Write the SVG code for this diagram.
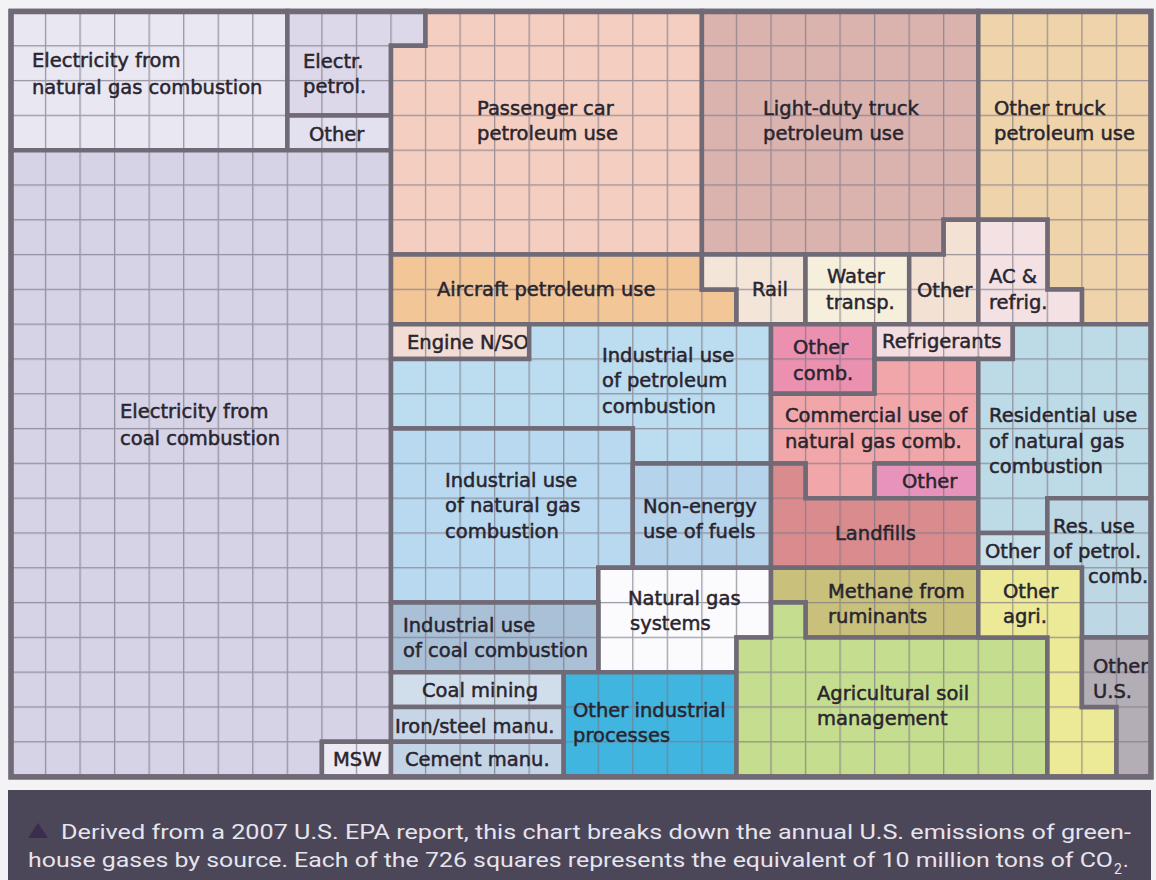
<svg xmlns="http://www.w3.org/2000/svg" width="1156" height="880" viewBox="0 0 1156 880">
<defs>
<pattern id="grid" patternUnits="userSpaceOnUse" x="10.35" y="10.35" width="34.545" height="34.8">
<rect x="0" y="0" width="1.3" height="34.8" fill="#7d7885" fill-opacity="0.72"/>
<rect x="1.3" y="0" width="33.245" height="1.3" fill="#7d7885" fill-opacity="0.72"/>
</pattern>
<style>
.g{fill:url(#grid);stroke:#6f6a75;stroke-width:4.5;stroke-linejoin:miter}
.t{font-family:"DejaVu Sans","Verdana",sans-serif;font-size:19.5px;fill:#29252f;stroke:#29252f;stroke-width:0.5}
.cap{font-family:Roboto,"Liberation Sans",sans-serif;font-size:21px;fill:#e6e4ec}
</style>
</defs>
<rect x="0" y="0" width="1156" height="880" fill="#f3f2f5"/>

<g id="elec-ng"><polygon fill="#e9e7f1" points="11,11 287.4,11 287.4,150.2 11,150.2"/><polygon class="g" points="11,11 287.4,11 287.4,150.2 11,150.2"/><text class="t" x="32" y="67">Electricity from</text><text class="t" x="32" y="94">natural gas combustion</text></g>
<g id="elec-petrol"><polygon fill="#dcd8ea" points="287.4,11 425.5,11 425.5,45.8 391,45.8 391,115.4 287.4,115.4"/><polygon class="g" points="287.4,11 425.5,11 425.5,45.8 391,45.8 391,115.4 287.4,115.4"/><text class="t" x="303" y="68">Electr.</text><text class="t" x="303" y="93">petrol.</text></g>
<g id="elec-other"><polygon fill="#e3e0ef" points="287.4,115.4 391,115.4 391,150.2 287.4,150.2"/><polygon class="g" points="287.4,115.4 391,115.4 391,150.2 287.4,150.2"/><text class="t" x="309" y="141">Other</text></g>
<g id="elec-coal"><polygon fill="#d6d3e6" points="11,150.2 391,150.2 391,741.8 321.9,741.8 321.9,776.6 11,776.6"/><polygon class="g" points="11,150.2 391,150.2 391,741.8 321.9,741.8 321.9,776.6 11,776.6"/><text class="t" x="120" y="418">Electricity from</text><text class="t" x="120" y="445">coal combustion</text></g>
<g id="msw"><polygon fill="#ecebf3" points="321.9,741.8 391,741.8 391,776.6 321.9,776.6"/><polygon class="g" points="321.9,741.8 391,741.8 391,776.6 321.9,776.6"/><text class="t" x="333" y="766">MSW</text></g>
<g id="passenger-car"><polygon fill="#f4cfc1" points="425.5,11 701.9,11 701.9,254.6 391,254.6 391,45.8 425.5,45.8"/><polygon class="g" points="425.5,11 701.9,11 701.9,254.6 391,254.6 391,45.8 425.5,45.8"/><text class="t" x="477" y="115">Passenger car</text><text class="t" x="477" y="140">petroleum use</text></g>
<g id="light-duty-truck"><polygon fill="#dab3ae" points="701.9,11 978.3,11 978.3,219.8 943.7,219.8 943.7,254.6 701.9,254.6"/><polygon class="g" points="701.9,11 978.3,11 978.3,219.8 943.7,219.8 943.7,254.6 701.9,254.6"/><text class="t" x="763" y="115">Light-duty truck</text><text class="t" x="763" y="140">petroleum use</text></g>
<g id="other-truck"><polygon fill="#efd3aa" points="978.3,11 1151,11 1151,324.2 1081.9,324.2 1081.9,289.4 1047.4,289.4 1047.4,219.8 978.3,219.8"/><polygon class="g" points="978.3,11 1151,11 1151,324.2 1081.9,324.2 1081.9,289.4 1047.4,289.4 1047.4,219.8 978.3,219.8"/><text class="t" x="994" y="115">Other truck</text><text class="t" x="994" y="140">petroleum use</text></g>
<g id="aircraft"><polygon fill="#f3c697" points="391,254.6 701.9,254.6 701.9,289.4 736.5,289.4 736.5,324.2 391,324.2"/><polygon class="g" points="391,254.6 701.9,254.6 701.9,289.4 736.5,289.4 736.5,324.2 391,324.2"/><text class="t" x="437" y="296">Aircraft petroleum use</text></g>
<g id="rail"><polygon fill="#f3e6d9" points="701.9,254.6 805.5,254.6 805.5,324.2 736.5,324.2 736.5,289.4 701.9,289.4"/><polygon class="g" points="701.9,254.6 805.5,254.6 805.5,324.2 736.5,324.2 736.5,289.4 701.9,289.4"/><text class="t" x="752" y="296">Rail</text></g>
<g id="water"><polygon fill="#f6efdc" points="805.5,254.6 909.2,254.6 909.2,324.2 805.5,324.2"/><polygon class="g" points="805.5,254.6 909.2,254.6 909.2,324.2 805.5,324.2"/><text class="t" x="827" y="283">Water</text><text class="t" x="826" y="309">transp.</text></g>
<g id="transport-other"><polygon fill="#f3e2d4" points="943.7,219.8 978.3,219.8 978.3,324.2 909.2,324.2 909.2,254.6 943.7,254.6"/><polygon class="g" points="943.7,219.8 978.3,219.8 978.3,324.2 909.2,324.2 909.2,254.6 943.7,254.6"/><text class="t" x="917" y="297">Other</text></g>
<g id="ac-refrig"><polygon fill="#f3e1e3" points="978.3,219.8 1047.4,219.8 1047.4,289.4 1081.9,289.4 1081.9,324.2 978.3,324.2"/><polygon class="g" points="978.3,219.8 1047.4,219.8 1047.4,289.4 1081.9,289.4 1081.9,324.2 978.3,324.2"/><text class="t" x="989" y="283">AC &amp;</text><text class="t" x="989" y="309">refrig.</text></g>
<g id="engine"><polygon fill="#f1ddd4" points="391,324.2 529.2,324.2 529.2,359 391,359"/><polygon class="g" points="391,324.2 529.2,324.2 529.2,359 391,359"/><text class="t" x="407" y="349">Engine N/SO</text></g>
<g id="ind-petrol"><polygon fill="#bcdcef" points="529.2,324.2 771,324.2 771,463.4 632.8,463.4 632.8,428.6 391,428.6 391,359 529.2,359"/><polygon class="g" points="529.2,324.2 771,324.2 771,463.4 632.8,463.4 632.8,428.6 391,428.6 391,359 529.2,359"/><text class="t" x="602" y="362">Industrial use</text><text class="t" x="602" y="387">of petroleum</text><text class="t" x="602" y="413">combustion</text></g>
<g id="ind-ng"><polygon fill="#b8d9ef" points="391,428.6 632.8,428.6 632.8,567.8 598.3,567.8 598.3,602.6 391,602.6"/><polygon class="g" points="391,428.6 632.8,428.6 632.8,567.8 598.3,567.8 598.3,602.6 391,602.6"/><text class="t" x="445" y="487">Industrial use</text><text class="t" x="445" y="512">of natural gas</text><text class="t" x="445" y="538">combustion</text></g>
<g id="non-energy"><polygon fill="#b5d3ea" points="632.8,463.4 771,463.4 771,567.8 632.8,567.8"/><polygon class="g" points="632.8,463.4 771,463.4 771,567.8 632.8,567.8"/><text class="t" x="643" y="513">Non-energy</text><text class="t" x="643" y="538">use of fuels</text></g>
<g id="ng-systems"><polygon fill="#fbfbfd" points="598.3,567.8 771,567.8 771,637.4 736.5,637.4 736.5,672.2 598.3,672.2"/><polygon class="g" points="598.3,567.8 771,567.8 771,637.4 736.5,637.4 736.5,672.2 598.3,672.2"/><text class="t" x="628" y="605">Natural gas</text><text class="t" x="630" y="630">systems</text></g>
<g id="ind-coal"><polygon fill="#a9c0d6" points="391,602.6 598.3,602.6 598.3,672.2 391,672.2"/><polygon class="g" points="391,602.6 598.3,602.6 598.3,672.2 391,672.2"/><text class="t" x="403" y="632">Industrial use</text><text class="t" x="403" y="657">of coal combustion</text></g>
<g id="coal-mining"><polygon fill="#d0deec" points="391,672.2 563.7,672.2 563.7,707 391,707"/><polygon class="g" points="391,672.2 563.7,672.2 563.7,707 391,707"/><text class="t" x="422" y="697">Coal mining</text></g>
<g id="iron-steel"><polygon fill="#c6d6e6" points="391,707 563.7,707 563.7,741.8 391,741.8"/><polygon class="g" points="391,707 563.7,707 563.7,741.8 391,741.8"/><text class="t" x="395" y="733">Iron/steel manu.</text></g>
<g id="cement"><polygon fill="#c2d4e6" points="391,741.8 563.7,741.8 563.7,776.6 391,776.6"/><polygon class="g" points="391,741.8 563.7,741.8 563.7,776.6 391,776.6"/><text class="t" x="405" y="766">Cement manu.</text></g>
<g id="other-industrial"><polygon fill="#40b5df" points="563.7,672.2 736.5,672.2 736.5,776.6 563.7,776.6"/><polygon class="g" points="563.7,672.2 736.5,672.2 736.5,776.6 563.7,776.6"/><text class="t" x="573" y="717">Other industrial</text><text class="t" x="573" y="742">processes</text></g>
<g id="other-comb"><polygon fill="#eb90af" points="771,324.2 874.6,324.2 874.6,393.8 771,393.8"/><polygon class="g" points="771,324.2 874.6,324.2 874.6,393.8 771,393.8"/><text class="t" x="793" y="354">Other</text><text class="t" x="793" y="380">comb.</text></g>
<g id="refrigerants"><polygon fill="#f3dde0" points="874.6,324.2 1012.8,324.2 1012.8,359 874.6,359"/><polygon class="g" points="874.6,324.2 1012.8,324.2 1012.8,359 874.6,359"/><text class="t" x="882" y="348">Refrigerants</text></g>
<g id="commercial"><polygon fill="#f1a6a9" points="874.6,359 978.3,359 978.3,463.4 874.6,463.4 874.6,498.2 805.5,498.2 805.5,463.4 771,463.4 771,393.8 874.6,393.8"/><polygon class="g" points="874.6,359 978.3,359 978.3,463.4 874.6,463.4 874.6,498.2 805.5,498.2 805.5,463.4 771,463.4 771,393.8 874.6,393.8"/><text class="t" x="785" y="422">Commercial use of</text><text class="t" x="785" y="448">natural gas comb.</text></g>
<g id="commercial-other"><polygon fill="#e793bb" points="874.6,463.4 978.3,463.4 978.3,498.2 874.6,498.2"/><polygon class="g" points="874.6,463.4 978.3,463.4 978.3,498.2 874.6,498.2"/><text class="t" x="902" y="488">Other</text></g>
<g id="landfills"><polygon fill="#d98b8e" points="771,463.4 805.5,463.4 805.5,498.2 978.3,498.2 978.3,567.8 771,567.8"/><polygon class="g" points="771,463.4 805.5,463.4 805.5,498.2 978.3,498.2 978.3,567.8 771,567.8"/><text class="t" x="835" y="540">Landfills</text></g>
<g id="residential-ng"><polygon fill="#bddbe7" points="1012.8,324.2 1151,324.2 1151,498.2 1047.4,498.2 1047.4,533 978.3,533 978.3,359 1012.8,359"/><polygon class="g" points="1012.8,324.2 1151,324.2 1151,498.2 1047.4,498.2 1047.4,533 978.3,533 978.3,359 1012.8,359"/><text class="t" x="989" y="422">Residential use</text><text class="t" x="989" y="448">of natural gas</text><text class="t" x="989" y="473">combustion</text></g>
<g id="residential-other"><polygon fill="#c9e1eb" points="978.3,533 1047.4,533 1047.4,567.8 978.3,567.8"/><polygon class="g" points="978.3,533 1047.4,533 1047.4,567.8 978.3,567.8"/><text class="t" x="985" y="558">Other</text></g>
<g id="residential-petrol"><polygon fill="#bdd8e4" points="1047.4,498.2 1151,498.2 1151,637.4 1081.9,637.4 1081.9,567.8 1047.4,567.8"/><polygon class="g" points="1047.4,498.2 1151,498.2 1151,637.4 1081.9,637.4 1081.9,567.8 1047.4,567.8"/><text class="t" x="1053" y="533">Res. use</text><text class="t" x="1053" y="558">of petrol.</text><text class="t" x="1088" y="583">comb.</text></g>
<g id="methane"><polygon fill="#c9c07c" points="771,567.8 978.3,567.8 978.3,637.4 805.5,637.4 805.5,602.6 771,602.6"/><polygon class="g" points="771,567.8 978.3,567.8 978.3,637.4 805.5,637.4 805.5,602.6 771,602.6"/><text class="t" x="828" y="598">Methane from</text><text class="t" x="828" y="623">ruminants</text></g>
<g id="agri-soil"><polygon fill="#c4dd8e" points="771,602.6 805.5,602.6 805.5,637.4 1047.4,637.4 1047.4,776.6 736.5,776.6 736.5,637.4 771,637.4"/><polygon class="g" points="771,602.6 805.5,602.6 805.5,637.4 1047.4,637.4 1047.4,776.6 736.5,776.6 736.5,637.4 771,637.4"/><text class="t" x="817" y="700">Agricultural soil</text><text class="t" x="817" y="725">management</text></g>
<g id="agri-other"><polygon fill="#ecea96" points="978.3,567.8 1081.9,567.8 1081.9,707 1116.5,707 1116.5,776.6 1047.4,776.6 1047.4,637.4 978.3,637.4"/><polygon class="g" points="978.3,567.8 1081.9,567.8 1081.9,707 1116.5,707 1116.5,776.6 1047.4,776.6 1047.4,637.4 978.3,637.4"/><text class="t" x="1003" y="598">Other</text><text class="t" x="1003" y="623">agri.</text></g>
<g id="other-us"><polygon fill="#b3aeb5" points="1081.9,637.4 1151,637.4 1151,776.6 1116.5,776.6 1116.5,707 1081.9,707"/><polygon class="g" points="1081.9,637.4 1151,637.4 1151,776.6 1116.5,776.6 1116.5,707 1081.9,707"/><text class="t" x="1093" y="673">Other</text><text class="t" x="1093" y="698">U.S.</text></g>

<g id="frame"><rect x="11" y="11.5" width="1140" height="765.5" fill="none" stroke="#6f6a75" stroke-width="5.5"/></g>

<g id="caption">
<rect x="8" y="790" width="1143" height="90" fill="#4b4658"/>
<polygon points="38,823 48,838 28,838" fill="#3a2d4f"/>
<text class="cap" x="61" y="839" textLength="1070" lengthAdjust="spacingAndGlyphs">Derived from a 2007 U.S. EPA report, this chart breaks down the annual U.S. emissions of green-</text>
<text class="cap" x="28" y="867" textLength="1085" lengthAdjust="spacingAndGlyphs">house gases by source. Each of the 726 squares represents the equivalent of 10 million tons of CO</text>
<text class="cap" x="1114" y="874" style="font-size:14px">2</text>
<text class="cap" x="1123" y="867">.</text>
</g>
</svg>
